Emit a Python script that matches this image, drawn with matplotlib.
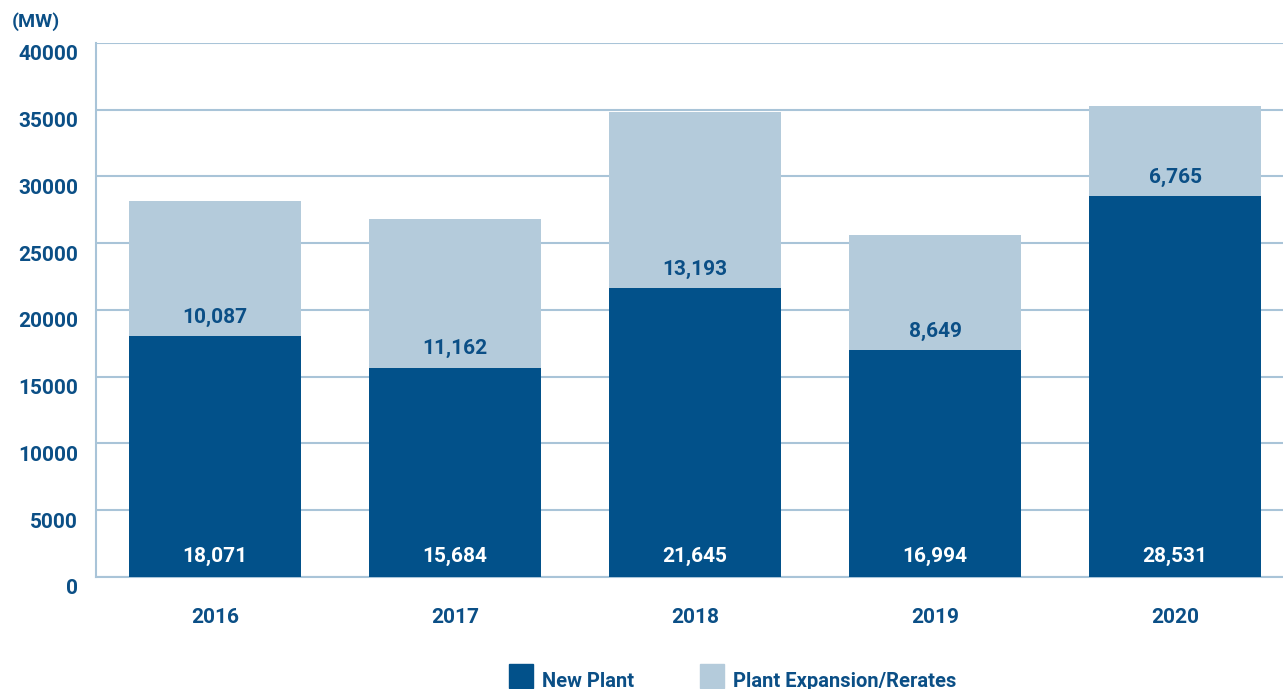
import matplotlib.pyplot as plt
from matplotlib.patches import Rectangle
from matplotlib.transforms import ScaledTranslation
import numpy as np

years = ["2016", "2017", "2018", "2019", "2020"]
new_plant = [18071, 15684, 21645, 16994, 28531]
expansion = [10087, 11162, 13193, 8649, 6765]

dark = "#02518A"
light = "#B4CBDB"
txt = "#0B4F86"
grid = "#A9C4D8"

plt.rcParams['font.family'] = ['Roboto', 'DejaVu Sans']

fig = plt.figure(figsize=(12.83, 6.89), dpi=100)
ax = fig.add_axes([0.0748, 0.1626, 0.9252, 0.775])

x = np.arange(len(years))
ax.bar(x, new_plant, width=0.72, color=dark, zorder=3)
ax.bar(x, expansion, width=0.72, bottom=new_plant, color=light, zorder=3)

for i in range(len(years)):
    ax.text(x[i], 1500, f"{new_plant[i]:,}", ha="center", va="center",
            color="white", fontsize=15, fontweight="bold", zorder=4)
    ax.text(x[i], new_plant[i] + 1400, f"{expansion[i]:,}", ha="center", va="center",
            color=txt, fontsize=15, fontweight="bold", zorder=4)

ax.set_xlim(-0.496, 4.45)
ax.set_ylim(0, 40000)
ax.set_yticks(np.arange(0, 40001, 5000))
ax.set_xticks(x)
ax.set_xticklabels(years)
ax.yaxis.grid(True, color=grid, linewidth=1.5, zorder=0)
ax.tick_params(length=0, colors=txt, labelsize=15)
ax.tick_params(axis="y", pad=13)
ax.tick_params(axis="x", pad=22)
shift = ScaledTranslation(0, -0.10, fig.dpi_scale_trans)
for lab in ax.get_yticklabels():
    lab.set_transform(lab.get_transform() + shift)
for lab in ax.get_xticklabels() + ax.get_yticklabels():
    lab.set_fontweight("bold")
for s in ["top", "right"]:
    ax.spines[s].set_visible(False)
for s in ["left", "bottom"]:
    ax.spines[s].set_color(grid)
    ax.spines[s].set_linewidth(1.5)

fig.text(0.009, 0.968, "(MW)", color=txt, fontsize=14, fontweight="bold", va="center")

# legend drawn by hand, partly cut at the bottom edge like the reference
W, H = 1283, 689
legend_items = [("New Plant", dark, 509), ("Plant Expansion/Rerates", light, 700)]
for label, col, px in legend_items:
    fig.add_artist(Rectangle((px / W, 1 / H), 24 / W, 24 / H, color=col,
                             transform=fig.transFigure))
    fig.text((px + 33) / W, 2 / H, label, color=txt, fontsize=14.5,
             fontweight="bold", va="baseline")

fig.savefig("out.png", dpi=100)
